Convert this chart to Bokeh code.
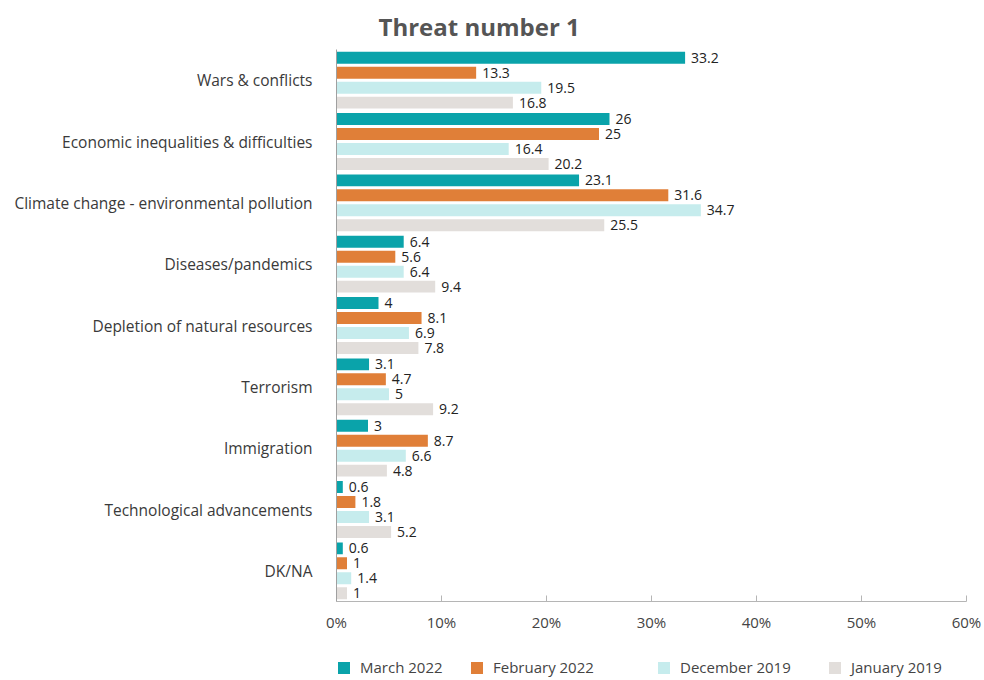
from bokeh.plotting import figure
from bokeh.layouts import column
from bokeh.models import FactorRange, ColumnDataSource, Legend, LegendItem, Title, CustomJSTickFormatter
from bokeh.transform import dodge
from bokeh.core.properties import value
from bokeh.embed import file_html
from bokeh.resources import INLINE

categories = ["Wars & conflicts", "Economic inequalities & difficulties",
              "Climate change - environmental pollution", "Diseases/pandemics",
              "Depletion of natural resources", "Terrorism", "Immigration",
              "Technological advancements", "DK/NA"]
series = ["March 2022", "February 2022", "December 2019", "January 2019"]
march_2022 = [33.2, 26, 23.1, 6.4, 4, 3.1, 3, 0.6, 0.6]
february_2022 = [13.3, 25, 31.6, 5.6, 8.1, 4.7, 8.7, 1.8, 1]
december_2019 = [19.5, 16.4, 34.7, 6.4, 6.9, 5, 6.6, 3.1, 1.4]
january_2019 = [16.8, 20.2, 25.5, 9.4, 7.8, 9.2, 4.8, 5.2, 1]
x_ticks = [0, 10, 20, 30, 40, 50, 60]

values = [march_2022, february_2022, december_2019, january_2019]
colors = ["#0aa3aa", "#e07f38", "#c6eced", "#e2dedb"]
offsets = [0.366, 0.122, -0.122, -0.366]
legend_x = [0, 133, 320, 491]

FONT = "Open Sans"

p = figure(width=984, height=636, output_backend="svg", toolbar_location=None,
           y_range=FactorRange(factors=categories[::-1], range_padding=0),
           x_range=(0, 60),
           min_border_left=336, min_border_right=18, min_border_top=49,
           min_border_bottom=35)
p.outline_line_color = None
p.background_fill_color = "white"
p.border_fill_color = "white"

for name, vals, col, off in zip(series, values, colors, offsets):
    src = ColumnDataSource(dict(cat=categories, val=vals,
                                lab=[("%g" % v) for v in vals]))
    p.hbar(y=dodge("cat", off, range=p.y_range), right="val", left=0,
           height=0.195, color=col, line_color=None, source=src)
    p.text(x="val", y=dodge("cat", off, range=p.y_range), text="lab", source=src,
           x_offset=6, text_baseline="middle", text_align="left",
           text_font=value(FONT), text_font_size="14px", text_color="#222222")

p.xgrid.visible = False
p.ygrid.visible = False

p.xaxis.ticker = x_ticks
p.xaxis.formatter = CustomJSTickFormatter(code="return tick + '%';")
p.xaxis.axis_line_color = "#b5b5b5"
p.xaxis.major_tick_line_color = "#b5b5b5"
p.xaxis.major_tick_in = 6
p.xaxis.major_tick_out = 0
p.xaxis.minor_tick_line_color = None
p.xaxis.major_label_text_font = FONT
p.xaxis.major_label_text_font_size = "15px"
p.xaxis.major_label_text_color = "#444444"
p.xaxis.major_label_standoff = 10

p.yaxis.axis_line_color = "#a0a0a0"
p.yaxis.major_tick_line_color = None
p.yaxis.minor_tick_line_color = None
p.yaxis.major_label_text_font = FONT
p.yaxis.major_label_text_font_size = "15.5px"
p.yaxis.major_label_text_color = "#3a3a3a"
p.yaxis.major_label_standoff = 18

p.add_layout(Title(text="Threat number 1", text_font=FONT, text_font_size="24px",
                   text_font_style="bold", text_color="#555555", align="left",
                   offset=42, standoff=13), "above")

# legend strip
p2 = figure(width=984, height=44, output_backend="svg", toolbar_location=None,
            x_range=(0, 1), y_range=(0, 1), min_border=0,
            x_axis_location=None, y_axis_location=None)
p2.outline_line_color = None
p2.xgrid.visible = False
p2.ygrid.visible = False
for name, col, lx in zip(series, colors, legend_x):
    r = p2.hbar(y=[-10], right=[1], left=[0], height=0.5, color=col, line_color=None)
    lg = Legend(items=[LegendItem(label=name, renderers=[r])], location=(lx, 3),
                glyph_width=15, glyph_height=15, label_standoff=9,
                label_text_font=FONT, label_text_font_size="15px",
                label_text_color="#444444", border_line_color=None,
                background_fill_alpha=0, margin=0, padding=0)
    p2.add_layout(lg, "center")

open("out.html", "w").write(file_html(column(p, p2, spacing=0), INLINE))
